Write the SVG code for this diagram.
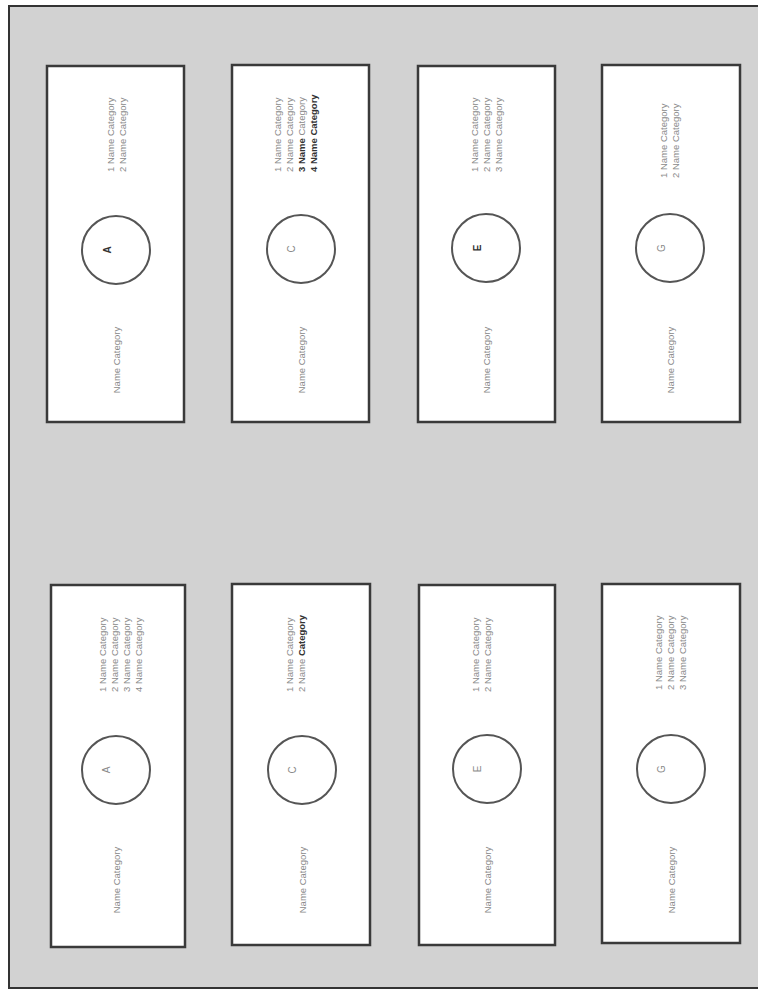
<svg xmlns="http://www.w3.org/2000/svg" width="758" height="990" viewBox="0 0 758 990">
<style>
.box{fill:#fff;stroke:#3a3a3a;stroke-width:2.5}
.circ{fill:#fff;stroke:#555;stroke-width:2}
text{font-family:"Liberation Sans",Arial,sans-serif;font-size:9.5px;fill:#8a8a8a}
.lab{text-anchor:middle}
.ltr{text-anchor:middle;font-size:10px}
.dk{fill:#333;font-weight:bold}
</style>
<rect x="0" y="0" width="758" height="990" fill="#fff"/>
<rect x="9" y="6" width="760" height="982" fill="#d2d2d2" stroke="#333" stroke-width="2"/>

<g id="nodeTop1">
<rect class="box" x="47" y="66" width="137" height="356"/>
<circle class="circ" cx="116" cy="250" r="34"/>
<text class="ltr dk" transform="translate(111,250) rotate(-90)">A</text>
<text transform="translate(114,172) rotate(-90)">1  Name Category</text>
<text transform="translate(126,172) rotate(-90)">2  Name Category</text>
<text class="lab" transform="translate(120,360) rotate(-90)">Name Category</text>
</g>

<g id="nodeTop2">
<rect class="box" x="232" y="65" width="137" height="357"/>
<circle class="circ" cx="301" cy="249" r="34"/>
<text class="ltr" transform="translate(295,249) rotate(-90)">C</text>
<text transform="translate(281,172) rotate(-90)">1  Name Category</text>
<text transform="translate(293,172) rotate(-90)">2  Name Category</text>
<text transform="translate(305,172) rotate(-90)"><tspan class="dk">3  Name</tspan> Category</text>
<text class="dk" transform="translate(317,172) rotate(-90)">4  Name Category</text>
<text class="lab" transform="translate(305,360) rotate(-90)">Name Category</text>
</g>

<g id="nodeTop3">
<rect class="box" x="418" y="66" width="137" height="356"/>
<circle class="circ" cx="486" cy="248" r="34"/>
<text class="ltr dk" transform="translate(481,248) rotate(-90)">E</text>
<text transform="translate(478,172) rotate(-90)">1  Name Category</text>
<text transform="translate(490,172) rotate(-90)">2  Name Category</text>
<text transform="translate(502,172) rotate(-90)">3  Name Category</text>
<text class="lab" transform="translate(490,360) rotate(-90)">Name Category</text>
</g>

<g id="nodeTop4">
<rect class="box" x="602" y="65" width="138" height="357"/>
<circle class="circ" cx="670" cy="248" r="34"/>
<text class="ltr" transform="translate(665,248) rotate(-90)">G</text>
<text transform="translate(667,178) rotate(-90)">1  Name Category</text>
<text transform="translate(679,178) rotate(-90)">2  Name Category</text>
<text class="lab" transform="translate(674,360) rotate(-90)">Name Category</text>
</g>

<g id="nodeBot1">
<rect class="box" x="51" y="585" width="134" height="362"/>
<circle class="circ" cx="116" cy="770" r="34"/>
<text class="ltr" transform="translate(110,770) rotate(-90)">A</text>
<text transform="translate(106,692) rotate(-90)">1  Name Category</text>
<text transform="translate(118,692) rotate(-90)">2  Name Category</text>
<text transform="translate(130,692) rotate(-90)">3  Name Category</text>
<text transform="translate(142,692) rotate(-90)">4  Name Category</text>
<text class="lab" transform="translate(120,880) rotate(-90)">Name Category</text>
</g>

<g id="nodeBot2">
<rect class="box" x="232" y="584" width="138" height="361"/>
<circle class="circ" cx="302" cy="770" r="34"/>
<text class="ltr" transform="translate(296,770) rotate(-90)">C</text>
<text transform="translate(293,692) rotate(-90)">1  Name Category</text>
<text transform="translate(305,692) rotate(-90)">2  Name <tspan class="dk">Category</tspan></text>
<text class="lab" transform="translate(306,880) rotate(-90)">Name Category</text>
</g>

<g id="nodeBot3">
<rect class="box" x="419" y="585" width="136" height="360"/>
<circle class="circ" cx="487" cy="769" r="34"/>
<text class="ltr" transform="translate(481,769) rotate(-90)">E</text>
<text transform="translate(479,692) rotate(-90)">1  Name Category</text>
<text transform="translate(491,692) rotate(-90)">2  Name Category</text>
<text class="lab" transform="translate(491,880) rotate(-90)">Name Category</text>
</g>

<g id="nodeBot4">
<rect class="box" x="602" y="584" width="138" height="359"/>
<circle class="circ" cx="671" cy="769" r="34"/>
<text class="ltr" transform="translate(665,769) rotate(-90)">G</text>
<text transform="translate(662,690) rotate(-90)">1  Name Category</text>
<text transform="translate(674,690) rotate(-90)">2  Name Category</text>
<text transform="translate(686,690) rotate(-90)">3  Name Category</text>
<text class="lab" transform="translate(675,880) rotate(-90)">Name Category</text>
</g>

<g id="connectors"></g>
</svg>
